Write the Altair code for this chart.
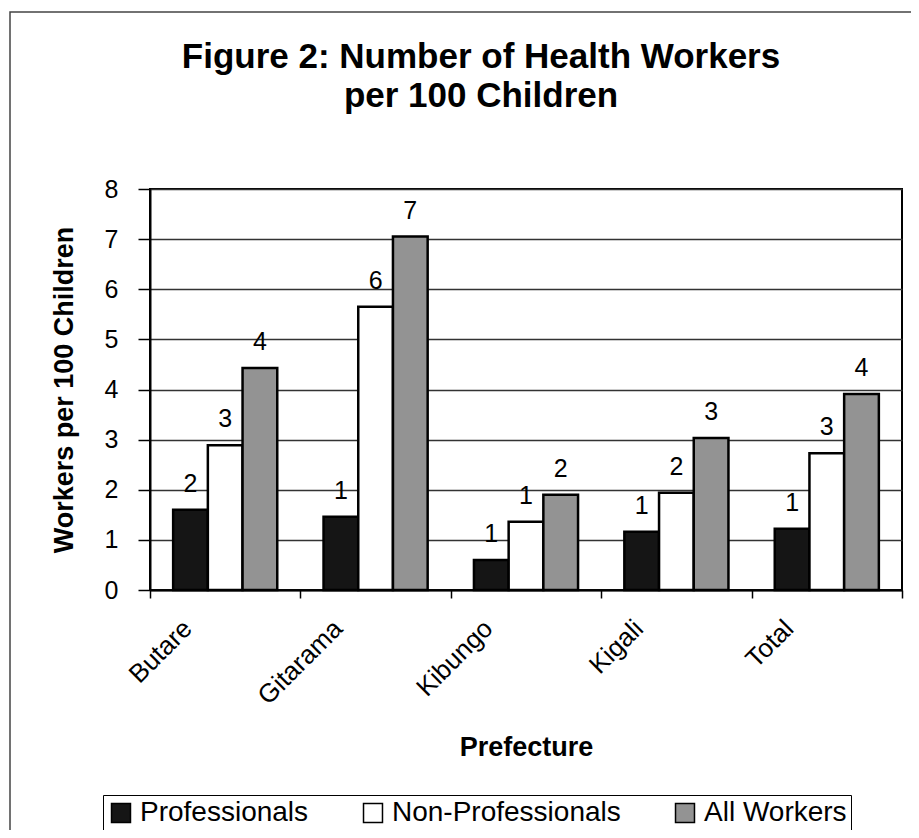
import altair as alt
import pandas as pd

categories = ["Butare", "Gitarama", "Kibungo", "Kigali", "Total"]
series = ["Professionals", "Non-Professionals", "All Workers"]
professionals = [1.60, 1.46, 0.60, 1.16, 1.22]
non_professionals = [2.89, 5.65, 1.36, 1.94, 2.73]
all_workers = [4.43, 7.05, 1.90, 3.03, 3.91]
y_ticks = [0, 1, 2, 3, 4, 5, 6, 7, 8]
title_lines = ["Figure 2: Number of Health Workers", "per 100 Children"]
colors = ["#151515", "#ffffff", "#939393"]

rows = []
for s, vals in zip(series, [professionals, non_professionals, all_workers]):
    for c, v in zip(categories, vals):
        rows.append({"Prefecture": c, "Series": s, "Value": v})
df = pd.DataFrame(rows)

FONT = "Liberation Sans"

x = alt.X(
    "Prefecture:N",
    sort=categories,
    scale=alt.Scale(paddingInner=0, paddingOuter=0),
    axis=alt.Axis(
        title="Prefecture", labelAngle=-45, labelAlign="right", labelBaseline="top",
        labelFontSize=26, labelOffset=-47, labelPadding=17, tickBand="extent",
        tickSize=8, grid=False, domainColor="black", domainWidth=2,
        tickColor="black", tickWidth=1.5, titleFontSize=27, titleFontWeight="bold",
        titleY=165, titleBaseline="alphabetic", labelColor="black", titleColor="black",
        labelFont=FONT, titleFont=FONT,
    ),
)
y = alt.Y(
    "Value:Q",
    scale=alt.Scale(domain=[0, 8], nice=False),
    axis=alt.Axis(
        title="Workers per 100 Children", values=y_ticks, format="d",
        labelFontSize=25, labelPadding=20, tickSize=12, tickColor="black",
        tickWidth=1.5, domainColor="black", domainWidth=2, gridColor="#333333",
        gridWidth=1.5, titleFontSize=27, titleFontWeight="bold", titlePadding=26,
        labelColor="black", titleColor="black", labelFont=FONT, titleFont=FONT,
    ),
)
xoff = alt.XOffset("Series:N", sort=series, scale=alt.Scale(paddingInner=0, paddingOuter=0.667))

bars = alt.Chart(df).mark_bar(stroke="black", strokeWidth=2.5).encode(
    x=x, y=y, xOffset=xoff,
    color=alt.Color(
        "Series:N", sort=series,
        scale=alt.Scale(domain=series, range=colors),
        legend=alt.Legend(
            title=None, orient="none", legendX=-47, legendY=606, direction="horizontal",
            strokeColor="black", padding=4, symbolType="square", symbolSize=360,
            symbolStrokeColor="black", symbolStrokeWidth=1.5, labelFontSize=28,
            labelFont=FONT, labelColor="black", labelLimit=500, columnPadding=50,
            labelOffset=5,
        ),
    ),
)

labels = alt.Chart(df).mark_text(
    fontSize=25, baseline="alphabetic", dy=-18, font=FONT, color="black"
).encode(x=x, y=y, xOffset=xoff, text=alt.Text("Value:Q", format=".0f"))

frame = alt.Chart(alt.Data(values=[{"a": 1}])).mark_rect(
    filled=False, stroke="#444444", strokeWidth=1.5, clip=False
).encode(x=alt.value(-140), x2=alt.value(775), y=alt.value(-177), y2=alt.value(660))

chart = alt.layer(frame, bars, labels).properties(
    width=752, height=401,
    padding={"left": 142, "top": 181, "right": 9, "bottom": 240},
    autosize=alt.AutoSizeParams(type="none"),
    background="white",
    title=alt.Title(
        title_lines, fontSize=35, font=FONT, fontWeight="bold", anchor="middle",
        frame="group", dx=-45, offset=0, dy=138, baseline="bottom", lineHeight=39,
        color="black",
    ),
).configure_view(stroke="black", strokeWidth=2)

chart.save("out.html", embed_options={"renderer": "svg", "actions": False})
